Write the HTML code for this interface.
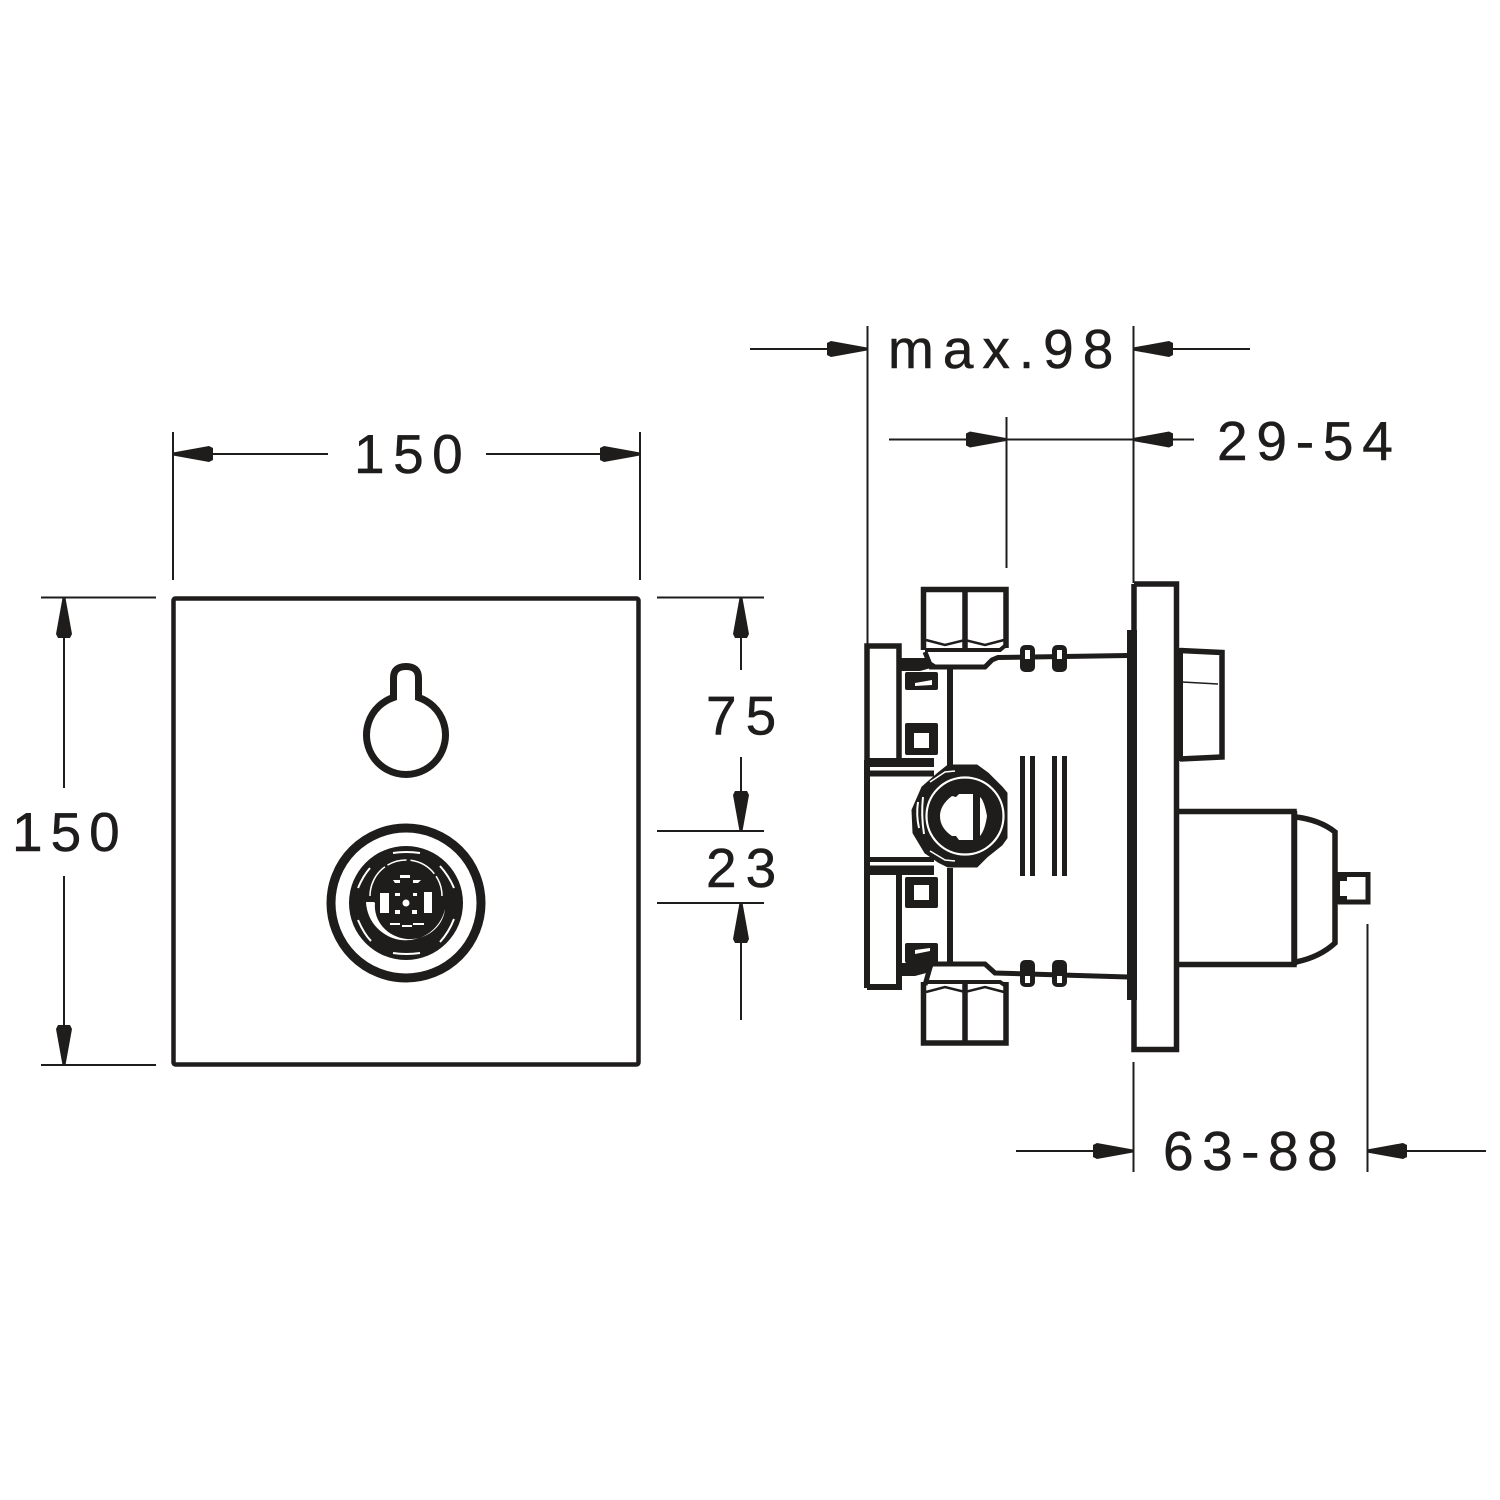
<!DOCTYPE html>
<html><head><meta charset="utf-8"><style>
html,body{margin:0;padding:0;background:#fff}
svg{display:block}
text{font-family:"Liberation Sans",sans-serif;font-size:55px;letter-spacing:8.500px;fill:#1f1c1c;stroke:#1f1c1c;stroke-width:.5}
</style></head><body>
<svg width="1500" height="1500" viewBox="0 0 1500 1500" xmlns="http://www.w3.org/2000/svg">
<defs><path id="a" d="M0 -1.500L36 -8L40 -6V6L36 8L0 1.500Z" fill="#1f1c1c"/></defs>
<rect width="1500" height="1500" fill="#fff"/>
<g fill="none" stroke="#1f1c1c" stroke-width="2">
<path d="M173 432V580M640 432V580M173 454H328M486 454H640"/>
<path d="M41 597.500H156M41 1065H156M64 597V788M64 876V1065"/>
<path d="M657 597.500H764M657 831H764M657 903H764M741 597V670M741 757V831M741 903V1020"/>
<path d="M867.500 326V645M1133.500 326V583M750 349H867M1133 349H1250"/>
<path d="M889 439.500H1194M1006.500 417V568"/>
<path d="M1133.500 1062V1172M1367.500 924V1172M1016 1151H1133M1367 1151H1486"/>
</g>
<use href="#a" transform="translate(173 454)"/>
<use href="#a" transform="translate(640 454) rotate(180)"/>
<use href="#a" transform="translate(64 598) rotate(90)"/>
<use href="#a" transform="translate(64 1065) rotate(-90)"/>
<use href="#a" transform="translate(741 598) rotate(90)"/>
<use href="#a" transform="translate(741 831) rotate(-90)"/>
<use href="#a" transform="translate(741 903) rotate(90)"/>
<use href="#a" transform="translate(867 349) rotate(180)"/>
<use href="#a" transform="translate(1133 349)"/>
<use href="#a" transform="translate(1006 439.500) rotate(180)"/>
<use href="#a" transform="translate(1133 439.500)"/>
<use href="#a" transform="translate(1133 1151) rotate(180)"/>
<use href="#a" transform="translate(1367 1151)"/>
<g>
<text x="354" y="473">150</text>
<text x="12" y="851" style="letter-spacing:8px">150</text>
<text x="706" y="734.500" style="letter-spacing:9px">75</text>
<text x="706" y="887" style="letter-spacing:9px">23</text>
<text x="888" y="368" style="letter-spacing:9px">max.98</text>
<text x="1217" y="460" style="letter-spacing:8.800px">29-54</text>
<text x="1163" y="1170">63-88</text>
</g>
<!-- front plate -->
<rect x="173.500" y="598.500" width="465" height="466" rx="2" fill="none" stroke="#1f1c1c" stroke-width="4.500"/>
<path d="M393.500 697.500V678Q393.500 666.500 406 666.500Q418.500 666.500 418.500 678V697.500A39.500 39.500 0 1 1 393.500 697.500Z" fill="none" stroke="#1f1c1c" stroke-width="7"/>
<!-- knob -->
<circle cx="406" cy="903" r="75" fill="none" stroke="#1f1c1c" stroke-width="9"/>
<circle cx="406" cy="903" r="57" fill="#1f1c1c"/>
<path d="M366 902A40 40 0 0 0 445 909A34 32 0 0 1 375 903L374 902Z" fill="#fff"/>
<g fill="none" stroke="#fff">
<path d="M370 896A36 36 0 0 1 442 896" stroke-width="1.500" stroke-dasharray="34 3 20 4 28 3"/>
<path d="M358 888Q363 876 370 868M440 866Q449 876 454 888M358 920Q364 934 371 941M440 942Q449 932 454 919M393 853Q406 851 420 853M393 953Q406 955 420 953" stroke-width="2"/>
</g>
<g fill="#fff">
<rect x="380" y="893" width="9" height="20"/><rect x="424" y="892" width="8" height="21"/>
<circle cx="406" cy="903" r="3.500"/>
<rect x="395" y="893" width="5" height="3"/><rect x="413" y="893" width="4" height="3"/>
<rect x="395" y="910" width="5" height="4"/><rect x="412" y="910" width="5" height="4"/>
<rect x="400" y="875" width="10" height="3"/>
<path d="M393 880H400V883H395ZM413 883H418L421 880H413Z"/>
<rect x="390" y="923" width="10" height="2"/><rect x="402" y="925" width="10" height="2"/><rect x="413" y="923" width="11" height="2"/>
</g>
<!-- side view -->
<g fill="none" stroke="#1f1c1c" stroke-width="6">
<path d="M867 761V646H899V761" stroke-width="5.500"/>
<path d="M867 760V988"/>
<path d="M867 987H899V872" stroke-width="6"/>
<path d="M950 668V766M950 868V966"/>
<path d="M923.500 650V589.500H1006V648M965 590V650" stroke-width="5.500"/>
<path d="M1006 982V1043H923.500V982M965 983V1043" stroke-width="5.500"/>
<path d="M925 652L931 667H985L992 660L998 657.500L1128 655.500" stroke-width="5"/>
<path d="M925 985L931 964H985L995 973L1128 977" stroke-width="5"/>
<path d="M925 650H1000L1006 645" stroke-width="4"/>
<path d="M925 982H1000L1006 986" stroke-width="4"/>
<path d="M1022.500 756V876M1032.500 756V876M1054.500 756V876M1064.500 756V876" stroke-width="5"/>
</g>
<g fill="#1f1c1c">
<rect x="868" y="758" width="66" height="9"/>
<rect x="868" y="770.500" width="66" height="6"/>
<rect x="868" y="857" width="66" height="5"/>
<rect x="868" y="865.500" width="66" height="9.500"/>
<path d="M898 658H925L938 666L920 671H898ZM898 963H935L930 972L915 976H898Z"/>
<rect x="905" y="672" width="33" height="18" rx="2"/>
<rect x="905" y="723" width="33" height="32" rx="2"/>
<rect x="905" y="877" width="33" height="31" rx="2"/>
<rect x="905" y="943" width="33" height="20" rx="2"/>
<rect x="1020" y="645" width="15" height="27" rx="5"/>
<rect x="1052" y="645" width="15" height="27" rx="5"/>
<rect x="1020" y="960" width="15" height="27" rx="5"/>
<rect x="1052" y="960" width="15" height="27" rx="5"/>
<rect x="1127" y="630" width="10" height="370"/>
</g>
<g fill="#fff">
<path d="M915 683L932 680V685L915 686Z"/>
<rect x="914" y="733" width="15" height="15"/>
<rect x="914" y="885" width="15" height="15"/>
<path d="M915 950L930 948V951L915 954Z"/>
<rect x="1025" y="650" width="5" height="9"/><rect x="1057" y="650" width="5" height="9"/>
<rect x="1025" y="976" width="5" height="7"/><rect x="1057" y="976" width="5" height="7"/>
</g>
<g fill="none" stroke="#1f1c1c" stroke-width="2.500">
<path d="M926 640L945 645L965 640L985 645L1004 640M926 992L945 987L965 992L985 987L1004 992"/>
</g>
<!-- side round port -->
<path d="M948 765H977L988 773L1002 787L1007 793V838L1002 845L987 857L977 867H948L938 862L925 853L913 833L912 810L922 787L938 773Z" fill="#1f1c1c" stroke="#1f1c1c" stroke-width="1" stroke-linejoin="round"/>
<circle cx="965" cy="816" r="38.500" fill="none" stroke="#fff" stroke-width="2.200"/>
<path d="M973 794H959L956 797L952 796Q940 805 940 816Q940 828 952 836L956 836L959 840H973Z" fill="#fff"/>
<path d="M980 797Q984 800 987 816Q985 830 980 836Z" fill="#fff"/>
<path d="M918 802Q916 815 919 828M923 797Q921 815 924 834" fill="none" stroke="#fff" stroke-width="2"/>
<path d="M930 782L945 772L955 771M930 851L945 860L955 861" fill="none" stroke="#fff" stroke-width="1.500"/>
<!-- right plate and parts -->
<g fill="none" stroke="#1f1c1c" stroke-width="5.500">
<path d="M1134 584H1176.500V1049.500H1134V584"/>
<path d="M1180 650.500L1222 652.500V757L1180 759"/>
<path d="M1180 648V761" stroke-width="6"/>
<path d="M1178 811.500H1294V964.500H1178"/>
<path d="M1294.500 811V965"/>
<path d="M1296 817Q1320 820 1335 832V943Q1320 957 1296 962"/>
<path d="M1338 874.500H1368V902H1338" stroke-width="5"/>
</g>
<path d="M1182 682L1218 684" stroke="#1f1c1c" stroke-width="1.500"/>
<path d="M1336 872H1347V881H1340V896H1347V904H1336Z" fill="#1f1c1c"/>
</svg>
</body></html>
